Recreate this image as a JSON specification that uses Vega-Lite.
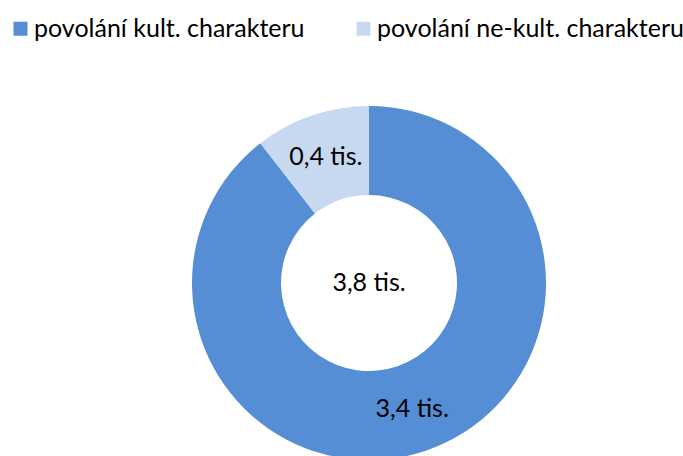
{
  "$schema": "https://vega.github.io/schema/vega-lite/v6.json",
  "width": 628,
  "height": 346,
  "autosize": "none",
  "padding": {"left": 55, "top": 110, "right": 0, "bottom": 0},
  "background": "white",
  "config": {"view": {"stroke": null}, "font": "Lato"},
  "data": {"values": [
    {"kategorie": "povolání kult. charakteru", "hodnota": 3.4, "popisek": "3,4 tis.", "o": 1},
    {"kategorie": "povolání ne-kult. charakteru", "hodnota": 0.4, "popisek": "0,4 tis.", "o": 2}
  ]},
  "encoding": {
    "theta": {"field": "hodnota", "type": "quantitative", "stack": true},
    "order": {"field": "o", "type": "quantitative"}
  },
  "layer": [
    {
      "mark": {"type": "arc", "innerRadius": 88, "outerRadius": 177},
      "encoding": {
        "color": {
          "field": "kategorie",
          "type": "nominal",
          "scale": {"domain": ["povolání kult. charakteru", "povolání ne-kult. charakteru"], "range": ["#558ED5", "#C6D9F1"]},
          "legend": {
            "title": null,
            "orient": "none",
            "direction": "horizontal",
            "legendX": -47,
            "legendY": -94,
            "symbolType": "square",
            "symbolSize": 196,
            "symbolStrokeWidth": 0,
            "labelFontSize": 25,
            "labelFont": "Lato",
            "labelColor": "black",
            "labelOffset": 1,
            "columnPadding": 46,
            "labelLimit": 400
          }
        }
      }
    },
    {
      "mark": {"type": "text", "radius": 133, "fontSize": 25, "color": "black", "font": "Lato"},
      "encoding": {"text": {"field": "popisek", "type": "nominal"}}
    },
    {
      "data": {"values": [{"celkem": "3,8 tis."}]},
      "mark": {"type": "text", "fontSize": 25, "color": "black", "font": "Lato"},
      "encoding": {"text": {"field": "celkem", "type": "nominal"}, "theta": null, "order": null}
    }
  ]
}
